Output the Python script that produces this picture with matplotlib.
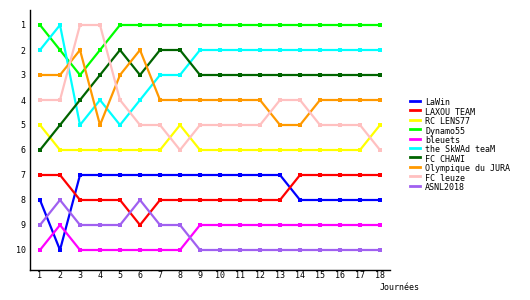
import numpy as np
import matplotlib.pyplot as plt
from matplotlib.lines import Line2D

# journées et classements
journees = np.arange(1, 19)

equipes = ['LaWin', 'LAXOU TEAM', 'RC LENS77', 'Dynamo55', 'bleuets',
           'the SkWAd teaM', 'FC CHAWI', 'Olympique du JURA', 'FC leuze', 'ASNL2018']
couleurs = ['#0000ff', '#ff0000', '#ffff00', '#00ff00', '#ff00ff',
            '#00ffff', '#006400', '#ff9900', '#ffc0c0', '#a060f0']

lawin   = [8, 10, 7, 7, 7, 7, 7, 7, 7, 7, 7, 7, 7, 8, 8, 8, 8, 8]
laxou   = [7, 7, 8, 8, 8, 9, 8, 8, 8, 8, 8, 8, 8, 7, 7, 7, 7, 7]
lens    = [5, 6, 6, 6, 6, 6, 6, 5, 6, 6, 6, 6, 6, 6, 6, 6, 6, 5]
dynamo  = [1, 2, 3, 2, 1, 1, 1, 1, 1, 1, 1, 1, 1, 1, 1, 1, 1, 1]
bleuets = [10, 9, 10, 10, 10, 10, 10, 10, 9, 9, 9, 9, 9, 9, 9, 9, 9, 9]
skwad   = [2, 1, 5, 4, 5, 4, 3, 3, 2, 2, 2, 2, 2, 2, 2, 2, 2, 2]
chawi   = [6, 5, 4, 3, 2, 3, 2, 2, 3, 3, 3, 3, 3, 3, 3, 3, 3, 3]
jura    = [3, 3, 2, 5, 3, 2, 4, 4, 4, 4, 4, 4, 5, 5, 4, 4, 4, 4]
leuze   = [4, 4, 1, 1, 4, 5, 5, 6, 5, 5, 5, 5, 4, 4, 5, 5, 5, 6]
asnl    = [9, 8, 9, 9, 9, 8, 9, 9, 10, 10, 10, 10, 10, 10, 10, 10, 10, 10]

classements = [lawin, laxou, lens, dynamo, bleuets, skwad, chawi, jura, leuze, asnl]

plt.rcParams['font.family'] = 'DejaVu Sans Mono'

fig = plt.figure(figsize=(5.3, 3.0), dpi=100)
ax = fig.add_axes([30/530, 30/300, 360/530, 260/300])

for nom, c, rangs in zip(equipes, couleurs, classements):
    ax.plot(journees, rangs, color=c, lw=1.6, marker='s', markersize=2.6,
            markeredgewidth=0, solid_joinstyle='miter')

ax.set_xlim(0.5, 18.5)
ax.set_ylim(10.8, 0.4)
ax.set_xticks(journees)
ax.set_yticks(range(1, 11))
ax.tick_params(axis='x', length=0, labelsize=6, pad=1)
ax.tick_params(axis='y', length=0, labelsize=6, pad=3)
ax.spines['top'].set_visible(False)
ax.spines['right'].set_visible(False)
ax.spines['left'].set_linewidth(1)
ax.spines['bottom'].set_linewidth(1)

fig.text(380/530, 1 - 287/300, 'Journées', fontsize=6, va='center', ha='left')

# légende à droite
for i, (nom, c) in enumerate(zip(equipes, couleurs)):
    y = 1 - (103 + i * 9.4) / 300
    fig.add_artist(Line2D([410/530, 420/530], [y + 2/300, y + 2/300], color=c, lw=2))
    fig.text(425/530, y, nom, fontsize=6, va='center', ha='left')

fig.savefig('out.png', dpi=100)
